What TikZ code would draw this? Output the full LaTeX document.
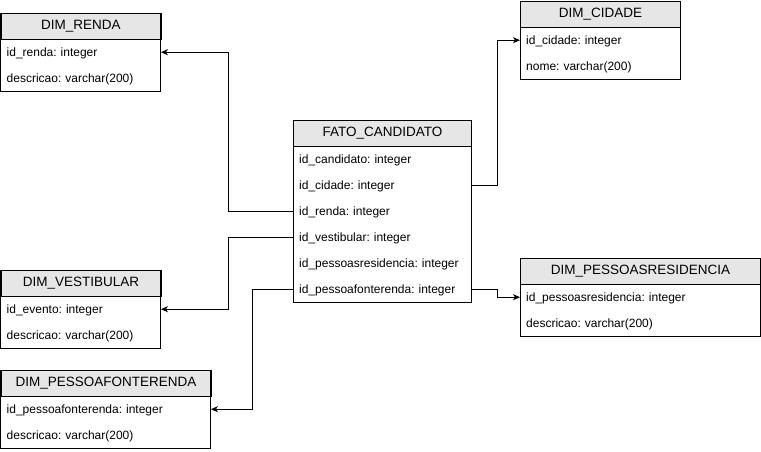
\documentclass[tikz,border=0pt]{standalone}
\usepackage{fontspec}
\setmainfont{Liberation Sans}
\usetikzlibrary{arrows.meta}
\definecolor{hdrgray}{RGB}{230,230,230}
\tikzset{
  hdr/.style={draw=black, fill=hdrgray, line width=0.9pt, minimum width=#1, minimum height=26pt, inner sep=0pt, anchor=north west, font=\fontsize{13.5}{15}\selectfont},
  row/.style={minimum height=26pt, text width=#1-12pt, text height=9.5pt, text depth=1.5pt, inner xsep=6pt, inner ysep=0pt, align=left, anchor=north west, font=\fontsize{12}{14}\selectfont\frenchspacing},
  boxline/.style={draw=black, line width=0.9pt},
  conn/.style={draw=black, line width=0.9pt, -{Stealth[length=7pt,width=6pt,inset=2pt]}}
}
\begin{document}
\begin{tikzpicture}[x=1pt,y=-1pt]
\useasboundingbox (0,0) rectangle (761,452);
% DIM_RENDA
\node[hdr=160pt] (rh) at (0.5,13) {DIM\_RENDA};
\node[row=160pt] (r1) at (0.5,39) {id\_renda: integer};
\node[row=160pt] (r2) at (0.5,65) {descricao: varchar(200)};
\draw[boxline] (rh.north west) rectangle (r2.south east);
% DIM_CIDADE
\node[hdr=160pt] (ch) at (520,1) {DIM\_CIDADE};
\node[row=160pt] (c1) at (520,27) {id\_cidade: integer};
\node[row=160pt] (c2) at (520,53) {nome: varchar(200)};
\draw[boxline] (ch.north west) rectangle (c2.south east);
% FATO_CANDIDATO
\node[hdr=178pt] (fh) at (293,120) {FATO\_CANDIDATO};
\node[row=178pt] (f1) at (293,146) {id\_candidato: integer};
\node[row=178pt] (f2) at (293,172) {id\_cidade: integer};
\node[row=178pt] (f3) at (293,198) {id\_renda: integer};
\node[row=178pt] (f4) at (293,224) {id\_vestibular: integer};
\node[row=178pt] (f5) at (293,250) {id\_pessoasresidencia: integer};
\node[row=178pt] (f6) at (293,276) {id\_pessoafonterenda: integer};
\draw[boxline] (fh.north west) rectangle (f6.south east);
% DIM_VESTIBULAR
\node[hdr=160pt] (vh) at (0.5,270) {DIM\_VESTIBULAR};
\node[row=160pt] (v1) at (0.5,296) {id\_evento: integer};
\node[row=160pt] (v2) at (0.5,322) {descricao: varchar(200)};
\draw[boxline] (vh.north west) rectangle (v2.south east);
% DIM_PESSOAFONTERENDA
\node[hdr=210pt] (ph) at (0.5,370) {DIM\_PESSOAFONTERENDA};
\node[row=210pt] (p1) at (0.5,396) {id\_pessoafonterenda: integer};
\node[row=210pt] (p2) at (0.5,422) {descricao: varchar(200)};
\draw[boxline] (ph.north west) rectangle (p2.south east);
% DIM_PESSOASRESIDENCIA
\node[hdr=240pt] (sh) at (520,258) {DIM\_PESSOASRESIDENCIA};
\node[row=240pt] (s1) at (520,284) {id\_pessoasresidencia: integer};
\node[row=240pt] (s2) at (520,310) {descricao: varchar(200)};
\draw[boxline] (sh.north west) rectangle (s2.south east);
% connectors
\draw[conn] (f3.west) -- ([xshift=-65pt]f3.west) |- (r1.east);
\draw[conn] (f2.east) -- ([xshift=26pt]f2.east) |- (c1.west);
\draw[conn] (f4.west) -- ([xshift=-65pt]f4.west) |- (v1.east);
\draw[conn] (f6.west) -- ([xshift=-41pt]f6.west) |- (p1.east);
\draw[conn] (f6.east) -- ([xshift=26pt]f6.east) |- (s1.west);
\end{tikzpicture}
\end{document}
